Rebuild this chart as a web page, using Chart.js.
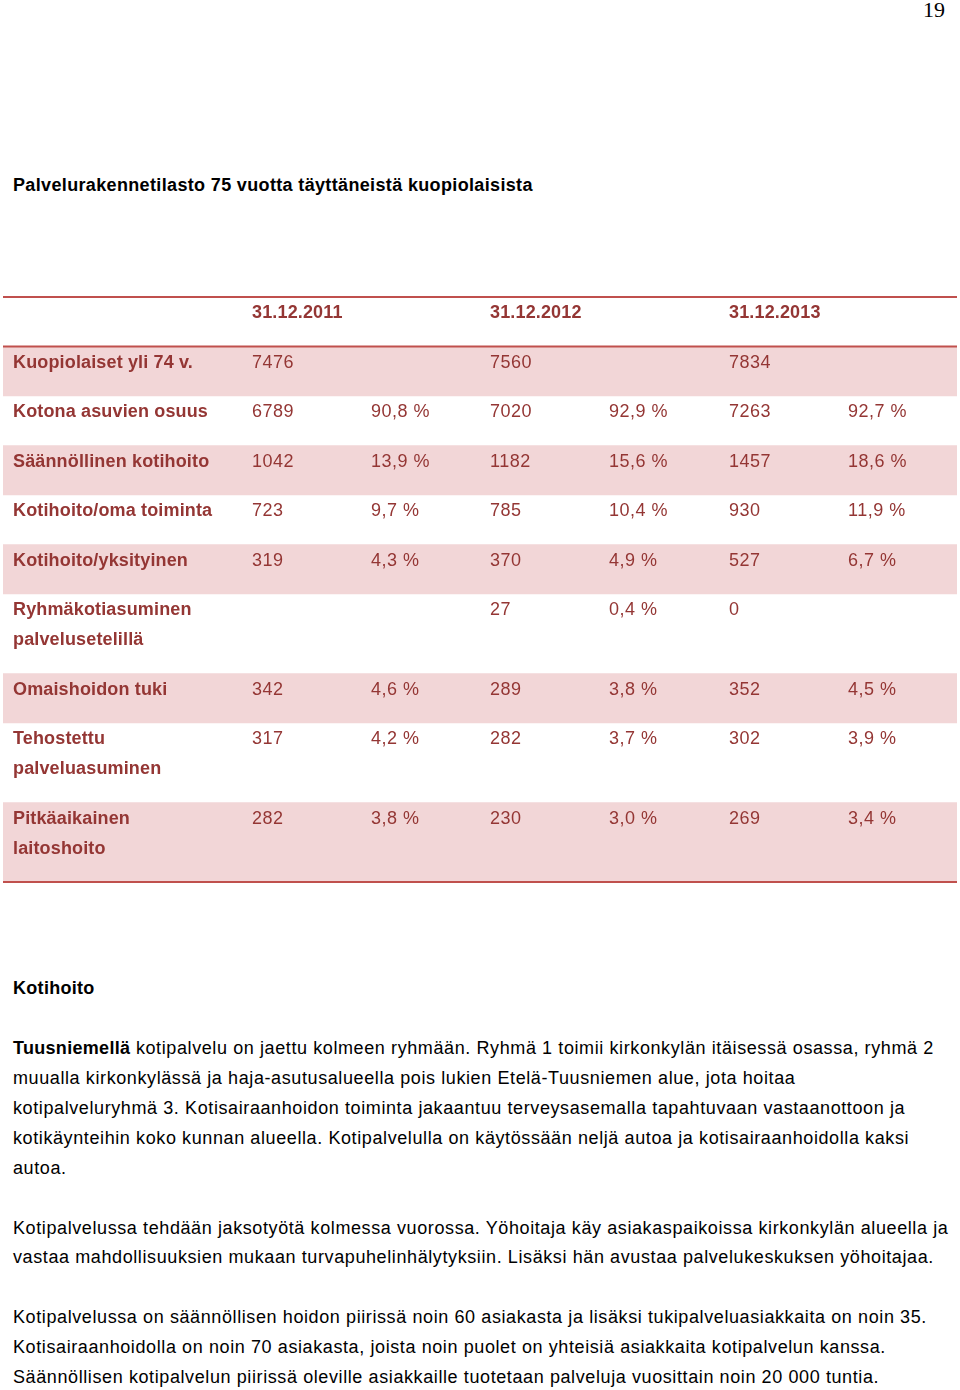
<!DOCTYPE html>
<html lang="fi">
<head>
<meta charset="utf-8">
<script src="https://cdn.jsdelivr.net/npm/chart.js@4.4.1/dist/chart.umd.min.js"></script>
<style>
  body { margin: 0; width: 960px; height: 1390px; background: #fff; position: relative; overflow: hidden;
         font-family: "Liberation Sans", Arial, sans-serif; color: #000; }
  .t { position: absolute; left: 13px; font-size: 18px; line-height: 30px; white-space: nowrap; letter-spacing: 0.6px; }
  .t b { letter-spacing: 0.3px; }
  #page { position: absolute; left: 923px; top: -3px; font-family: "Liberation Serif", serif; font-size: 22px; }
  #tbl { position: absolute; left: 0; top: 290px; }
</style>
</head>
<body>
<div id="page">19</div>
<div class="t" style="top:170px;font-weight:bold;letter-spacing:0.35px">Palvelurakennetilasto 75 vuotta täyttäneistä kuopiolaisista</div>

<div id="tbl"><canvas id="myTable" width="960" height="600"></canvas></div>

<div class="t" style="top:973px;font-weight:bold;letter-spacing:0.3px">Kotihoito</div>
<div class="t" style="top:1033px"><b>Tuusniemellä</b> kotipalvelu on jaettu kolmeen ryhmään. Ryhmä 1 toimii kirkonkylän itäisessä osassa, ryhmä 2</div>
<div class="t" style="top:1063px">muualla kirkonkylässä ja haja-asutusalueella pois lukien Etelä-Tuusniemen alue, jota hoitaa</div>
<div class="t" style="top:1093px">kotipalveluryhmä 3. Kotisairaanhoidon toiminta jakaantuu terveysasemalla tapahtuvaan vastaanottoon ja</div>
<div class="t" style="top:1123px">kotikäynteihin koko kunnan alueella. Kotipalvelulla on käytössään neljä autoa ja kotisairaanhoidolla kaksi</div>
<div class="t" style="top:1153px">autoa.</div>
<div class="t" style="top:1213px">Kotipalvelussa tehdään jaksotyötä kolmessa vuorossa. Yöhoitaja käy asiakaspaikoissa kirkonkylän alueella ja</div>
<div class="t" style="top:1242px">vastaa mahdollisuuksien mukaan turvapuhelinhälytyksiin. Lisäksi hän avustaa palvelukeskuksen yöhoitajaa.</div>
<div class="t" style="top:1302px">Kotipalvelussa on säännöllisen hoidon piirissä noin 60 asiakasta ja lisäksi tukipalveluasiakkaita on noin 35.</div>
<div class="t" style="top:1332px">Kotisairaanhoidolla on noin 70 asiakasta, joista noin puolet on yhteisiä asiakkaita kotipalvelun kanssa.</div>
<div class="t" style="top:1362px">Säännöllisen kotipalvelun piirissä oleville asiakkaille tuotetaan palveluja vuosittain noin 20 000 tuntia.</div>

<script>
// taulukon tiedot
const years = ['31.12.2011', '31.12.2012', '31.12.2013'];
const rowLabels = ['Kuopiolaiset yli 74 v.', 'Kotona asuvien osuus', 'Säännöllinen kotihoito',
  'Kotihoito/oma toiminta', 'Kotihoito/yksityinen', 'Ryhmäkotiasuminen\npalvelusetelillä',
  'Omaishoidon tuki', 'Tehostettu\npalveluasuminen', 'Pitkäaikainen\nlaitoshoito'];
const counts2011 = [7476, 6789, 1042, 723, 319, null, 342, 317, 282];
const shares2011 = [null, 90.8, 13.9, 9.7, 4.3, null, 4.6, 4.2, 3.8];
const counts2012 = [7560, 7020, 1182, 785, 370, 27, 289, 282, 230];
const shares2012 = [null, 92.9, 15.6, 10.4, 4.9, 0.4, 3.8, 3.7, 3.0];
const counts2013 = [7834, 7263, 1457, 930, 527, 0, 352, 302, 269];
const shares2013 = [null, 92.7, 18.6, 11.9, 6.7, null, 4.5, 3.9, 3.4];

const LINE = 30, PAD = 19.5;
const colX = [10, 249, 368, 487, 606, 726, 845];   // sarakkeiden paikat taulukon vasemmasta reunasta
const pink = '#f2d6d7', red = '#c0504d', textCol = '#943634';

let pct = v => v == null ? '' : v.toFixed(1).replace('.', ',') + ' %';
let num = v => v == null ? '' : String(v);

// rivit: otsikko + datarivit
let rows = [['', years[0], '', years[1], '', years[2], '']];
rowLabels.forEach((lab, i) => {
  rows.push([lab, num(counts2011[i]), pct(shares2011[i]), num(counts2012[i]), pct(shares2012[i]),
             num(counts2013[i]), pct(shares2013[i])]);
});

// rivien ylä- ja alareunat (rivin korkeus riippuu rivimäärästä)
let spans = [];
let y = 0;
rows.forEach(r => {
  let n = Math.max(...r.map(c => c.split('\n').length));
  spans.push([y, y + n * LINE + PAD]);
  y += n * LINE + PAD;
});
const total = y;

const datasets = spans.map((s, i) => ({
  label: 'rivi' + i,
  data: [s],
  backgroundColor: (i > 0 && i % 2 == 1) ? pink : 'rgba(0,0,0,0)',
  borderWidth: 0,
  barPercentage: 1,
  categoryPercentage: 1,
  grouped: false
}));

const cellText = {
  id: 'cellText',
  afterDatasetsDraw(chart) {
    const ctx = chart.ctx, ys = chart.scales.y, area = chart.chartArea;
    ctx.save();
    // viivat
    ctx.strokeStyle = red;
    ctx.lineWidth = 2;
    [0, spans[0][1], total].forEach(v => {
      let py = ys.getPixelForValue(v);
      ctx.beginPath();
      ctx.moveTo(area.left, py);
      ctx.lineTo(area.right, py);
      ctx.stroke();
    });
    ctx.fillStyle = textCol;
    ctx.textBaseline = 'middle';
    rows.forEach((r, ri) => {
      r.forEach((cell, ci) => {
        if (!cell) return;
        let bold = ri == 0 || ci == 0;
        ctx.font = (bold ? 'bold ' : '') + '18px "Liberation Sans", Arial, sans-serif';
        ctx.letterSpacing = bold ? '0.15px' : '0.5px';
        cell.split('\n').forEach((ln, k) => {
          let py = ys.getPixelForValue(spans[ri][0] + LINE / 2 + k * LINE) + 1.5;
          ctx.fillText(ln, area.left + colX[ci], py);
        });
      });
    });
    ctx.restore();
  }
};

new Chart(document.getElementById('myTable'), {
  type: 'bar',
  data: { labels: ['taulukko'], datasets: datasets },
  options: {
    responsive: false,
    animation: false,
    layout: { padding: { left: 3, right: 3, top: 7, bottom: 600 - 7 - total } },
    plugins: { legend: { display: false }, tooltip: { enabled: false } },
    scales: {
      x: { display: false },
      y: { display: false, reverse: true, min: 0, max: total }
    }
  },
  plugins: [cellText]
});
</script>
</body>
</html>
